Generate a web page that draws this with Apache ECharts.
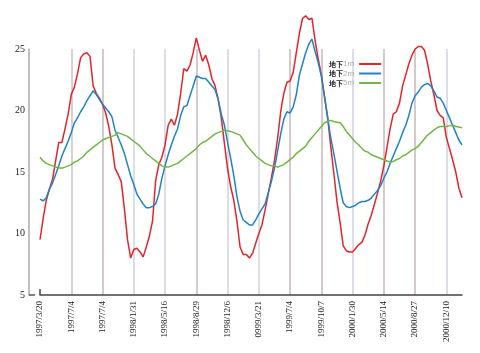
<!DOCTYPE html>
<html>
<head>
<meta charset="utf-8">
<script src="https://cdn.jsdelivr.net/npm/echarts@6/dist/echarts.min.js"></script>
<style>
  html, body { margin: 0; padding: 0; background: #fff; }
  #chart { width: 480px; height: 353px; }
</style>
</head>
<body>
<div id="chart"></div>
<script>
// date labels, one every POINTS_PER_LABEL samples (typos kept as in the source)
const dateLabels = [
    '1997/3/20', '1997/7/4', '1997/7/4', '1998/1/31', '1998/5/16', '1998/8/29', '1998/12/6',
    '0999/3/21', '1999/7/4', '1999/10/7', '2000/1/30', '2000/5/14', '2000/8/27', '2000/12/10'
];
const POINTS_PER_LABEL = 10;

const seriesNames = ['地下1m', '地下2m', '地下5m'];

const depth1m = [
    9.5, 11.2, 12.7, 13.6, 14.4, 15.9, 17.4, 17.4, 18.5, 19.7,
    21.3, 21.9, 23.0, 24.3, 24.6, 24.7, 24.4, 22.0, 21.4, 21.0,
    20.5, 19.8, 18.7, 17.2, 15.3, 14.8, 14.2, 12.0, 9.5, 8.0,
    8.7, 8.8, 8.5, 8.1, 8.9, 9.8, 11.0, 14.3, 15.6, 16.2,
    17.2, 18.8, 19.3, 18.8, 19.7, 21.4, 23.4, 23.2, 23.7, 24.7,
    25.9, 24.9, 24.0, 24.5, 23.7, 22.6, 22.0, 20.9, 19.4, 17.3,
    15.3, 13.8, 12.7, 11.0, 8.9, 8.3, 8.3, 8.0, 8.4, 9.2,
    10.0, 10.7, 11.9, 13.2, 14.5, 15.9, 17.7, 19.9, 21.4, 22.3,
    22.4, 23.1, 24.7, 26.3, 27.5, 27.7, 27.4, 27.5, 25.7, 24.2,
    22.9, 21.2, 19.5, 17.1, 14.9, 12.6, 10.9, 9.0, 8.6, 8.5,
    8.5, 8.8, 9.1, 9.3, 9.9, 10.8, 11.5, 12.4, 13.3, 14.3,
    15.5, 17.0, 18.5, 19.7, 19.9, 20.6, 22.0, 22.9, 23.8, 24.5,
    25.0, 25.2, 25.2, 24.9, 23.8, 22.4, 21.3, 20.0, 19.6, 19.4,
    17.8, 16.9, 16.0, 15.0, 13.7, 12.9
];

const depth2m = [
    12.8, 12.65, 12.9, 13.6, 14.1, 14.8, 15.5, 16.3, 16.9, 17.5,
    18.2, 19.0, 19.4, 19.9, 20.3, 20.8, 21.2, 21.6, 21.3, 20.9,
    20.5, 20.2, 19.9, 19.5, 18.4, 17.8, 17.2, 16.5, 15.6, 14.7,
    14.0, 13.2, 12.8, 12.4, 12.1, 12.1, 12.2, 12.4, 13.2, 14.5,
    15.5, 16.4, 17.2, 17.9, 18.5, 19.6, 20.3, 20.4, 21.2, 22.0,
    22.8, 22.7, 22.6, 22.6, 22.3, 22.0, 21.7, 20.9, 19.7, 18.8,
    17.4, 16.1, 14.7, 13.0, 11.8, 11.1, 10.9, 10.7, 10.7, 11.1,
    11.6, 12.0, 12.4, 13.3, 14.2, 15.3, 16.7, 18.1, 19.3, 19.9,
    19.8, 20.3, 21.3, 22.9, 23.8, 24.7, 25.4, 25.8, 24.8, 23.9,
    22.8, 21.1, 19.4, 17.8, 16.5, 15.1, 13.7, 12.5, 12.2, 12.1,
    12.2, 12.3, 12.5, 12.6, 12.6, 12.7, 12.9, 13.2, 13.5, 13.9,
    14.5, 15.0, 15.7, 16.3, 16.9, 17.5, 18.2, 18.8, 19.6, 20.6,
    21.2, 21.5, 21.9, 22.1, 22.2, 22.0, 21.6, 21.1, 21.0, 20.6,
    20.0, 19.4, 18.8, 18.2, 17.6, 17.2
];

const depth5m = [
    16.2, 15.9, 15.7, 15.6, 15.5, 15.4, 15.35, 15.3, 15.4, 15.5,
    15.6, 15.8, 15.9, 16.1, 16.3, 16.6, 16.8, 17.0, 17.2, 17.4,
    17.6, 17.7, 17.8, 17.9, 18.0, 18.2, 18.1, 18.0, 17.9, 17.7,
    17.5, 17.3, 17.1, 16.8, 16.5, 16.3, 16.1, 15.9, 15.7, 15.5,
    15.4, 15.4, 15.5, 15.6, 15.7, 15.9, 16.1, 16.3, 16.5, 16.7,
    16.9, 17.2, 17.4, 17.5, 17.7, 17.9, 18.1, 18.2, 18.3, 18.4,
    18.35, 18.3, 18.2, 18.1, 18.0, 17.6, 17.2, 16.9, 16.6, 16.3,
    16.1, 15.9, 15.7, 15.6, 15.5, 15.5, 15.4, 15.5, 15.6, 15.8,
    16.0, 16.2, 16.5, 16.7, 16.9, 17.1, 17.5, 17.8, 18.1, 18.4,
    18.7, 19.0, 19.1, 19.2, 19.1, 19.05, 19.0, 18.7, 18.3, 18.0,
    17.7, 17.4, 17.2, 16.9, 16.7, 16.6, 16.4, 16.3, 16.2, 16.1,
    16.0, 15.9, 15.8, 15.85, 16.0, 16.1, 16.3, 16.4, 16.6, 16.8,
    16.9, 17.1, 17.4, 17.7, 18.0, 18.2, 18.4, 18.6, 18.7, 18.7,
    18.7, 18.75, 18.8, 18.7, 18.65, 18.6
];

const yMin = 5;
const yMax = 25;
const yStep = 5;

const categories = depth1m.map((_, i) =>
    i % POINTS_PER_LABEL === 0 ? dateLabels[i / POINTS_PER_LABEL] : '');

const BLUISH = '#cdd3e2';
const BROWNISH = '#c9b7b7';
const GRAYISH = '#c9c3c3';

const chart = echarts.init(document.getElementById('chart'));

const isLabelIdx = i => i % POINTS_PER_LABEL === 0;

chart.setOption({
    animation: false,
    backgroundColor: '#fff',
    legend: {
        orient: 'vertical',
        align: 'right',
        left: 324,
        top: 55,
        icon: 'rect',
        itemWidth: 22,
        itemHeight: 2,
        itemGap: 1.5,
        data: seriesNames,
        formatter: name => '{a|' + name.slice(0, 2) + '}{b|' + name.slice(2) + '}',
        textStyle: {
            lineHeight: 8,
            rich: {
                a: { fontSize: 7, fontWeight: 'bold', color: '#222', fontFamily: 'Noto Sans CJK SC', lineHeight: 8 },
                b: { fontSize: 8, color: '#aaa', fontFamily: 'Liberation Sans', lineHeight: 8 }
            }
        }
    },
    grid: [
        { left: 29, right: 17, top: 49, bottom: 58 },
        { left: 40, right: 18, top: 49, bottom: 58 }
    ],
    xAxis: [
        { gridIndex: 0, type: 'value', show: false },
        {
            gridIndex: 1,
            type: 'category',
            boundaryGap: false,
            data: categories,
            axisLine: { lineStyle: { color: '#444', width: 1.5 } },
            axisTick: {
                inside: true,
                length: 6,
                interval: i => i === 0,
                lineStyle: { color: '#444', width: 1.5 }
            },
            axisLabel: {
                interval: isLabelIdx,
                rotate: 90,
                margin: 6,
                fontSize: 9,
                fontFamily: 'Liberation Serif',
                color: '#222'
            },
            splitLine: {
                show: true,
                interval: isLabelIdx,
                lineStyle: {
                    width: 1.5,
                    color: ['rgba(0,0,0,0)', GRAYISH, BROWNISH, BLUISH, BLUISH, BROWNISH, BLUISH,
                        BLUISH, BROWNISH, BROWNISH, BLUISH, BROWNISH, BROWNISH, BLUISH]
                }
            }
        }
    ],
    yAxis: [
        {
            gridIndex: 0,
            type: 'value',
            min: yMin,
            max: yMax,
            interval: yStep,
            axisLine: { show: true, lineStyle: { color: '#aaa', width: 1.5 } },
            axisTick: {
                show: true,
                inside: true,
                length: 6,
                customValues: [yMin],
                lineStyle: { color: '#555', width: 1.5 }
            },
            axisLabel: {
                margin: 4,
                fontSize: 10,
                fontFamily: 'Liberation Serif',
                color: '#222'
            },
            splitLine: {
                lineStyle: {
                    width: 1.5,
                    color: ['rgba(0,0,0,0)', BLUISH, BROWNISH, GRAYISH, GRAYISH]
                }
            }
        },
        { gridIndex: 1, type: 'value', min: yMin, max: yMax, show: false }
    ],
    series: [
        { name: seriesNames[0], data: depth1m, color: '#e2252b' },
        { name: seriesNames[1], data: depth2m, color: '#1f84c6' },
        { name: seriesNames[2], data: depth5m, color: '#71b646' }
    ].map(s => ({
        name: s.name,
        type: 'line',
        xAxisIndex: 1,
        yAxisIndex: 1,
        symbol: 'none',
        clip: false,
        data: s.data,
        itemStyle: { color: s.color },
        lineStyle: { color: s.color, width: 1.5 }
    }))
});
</script>
</body>
</html>
